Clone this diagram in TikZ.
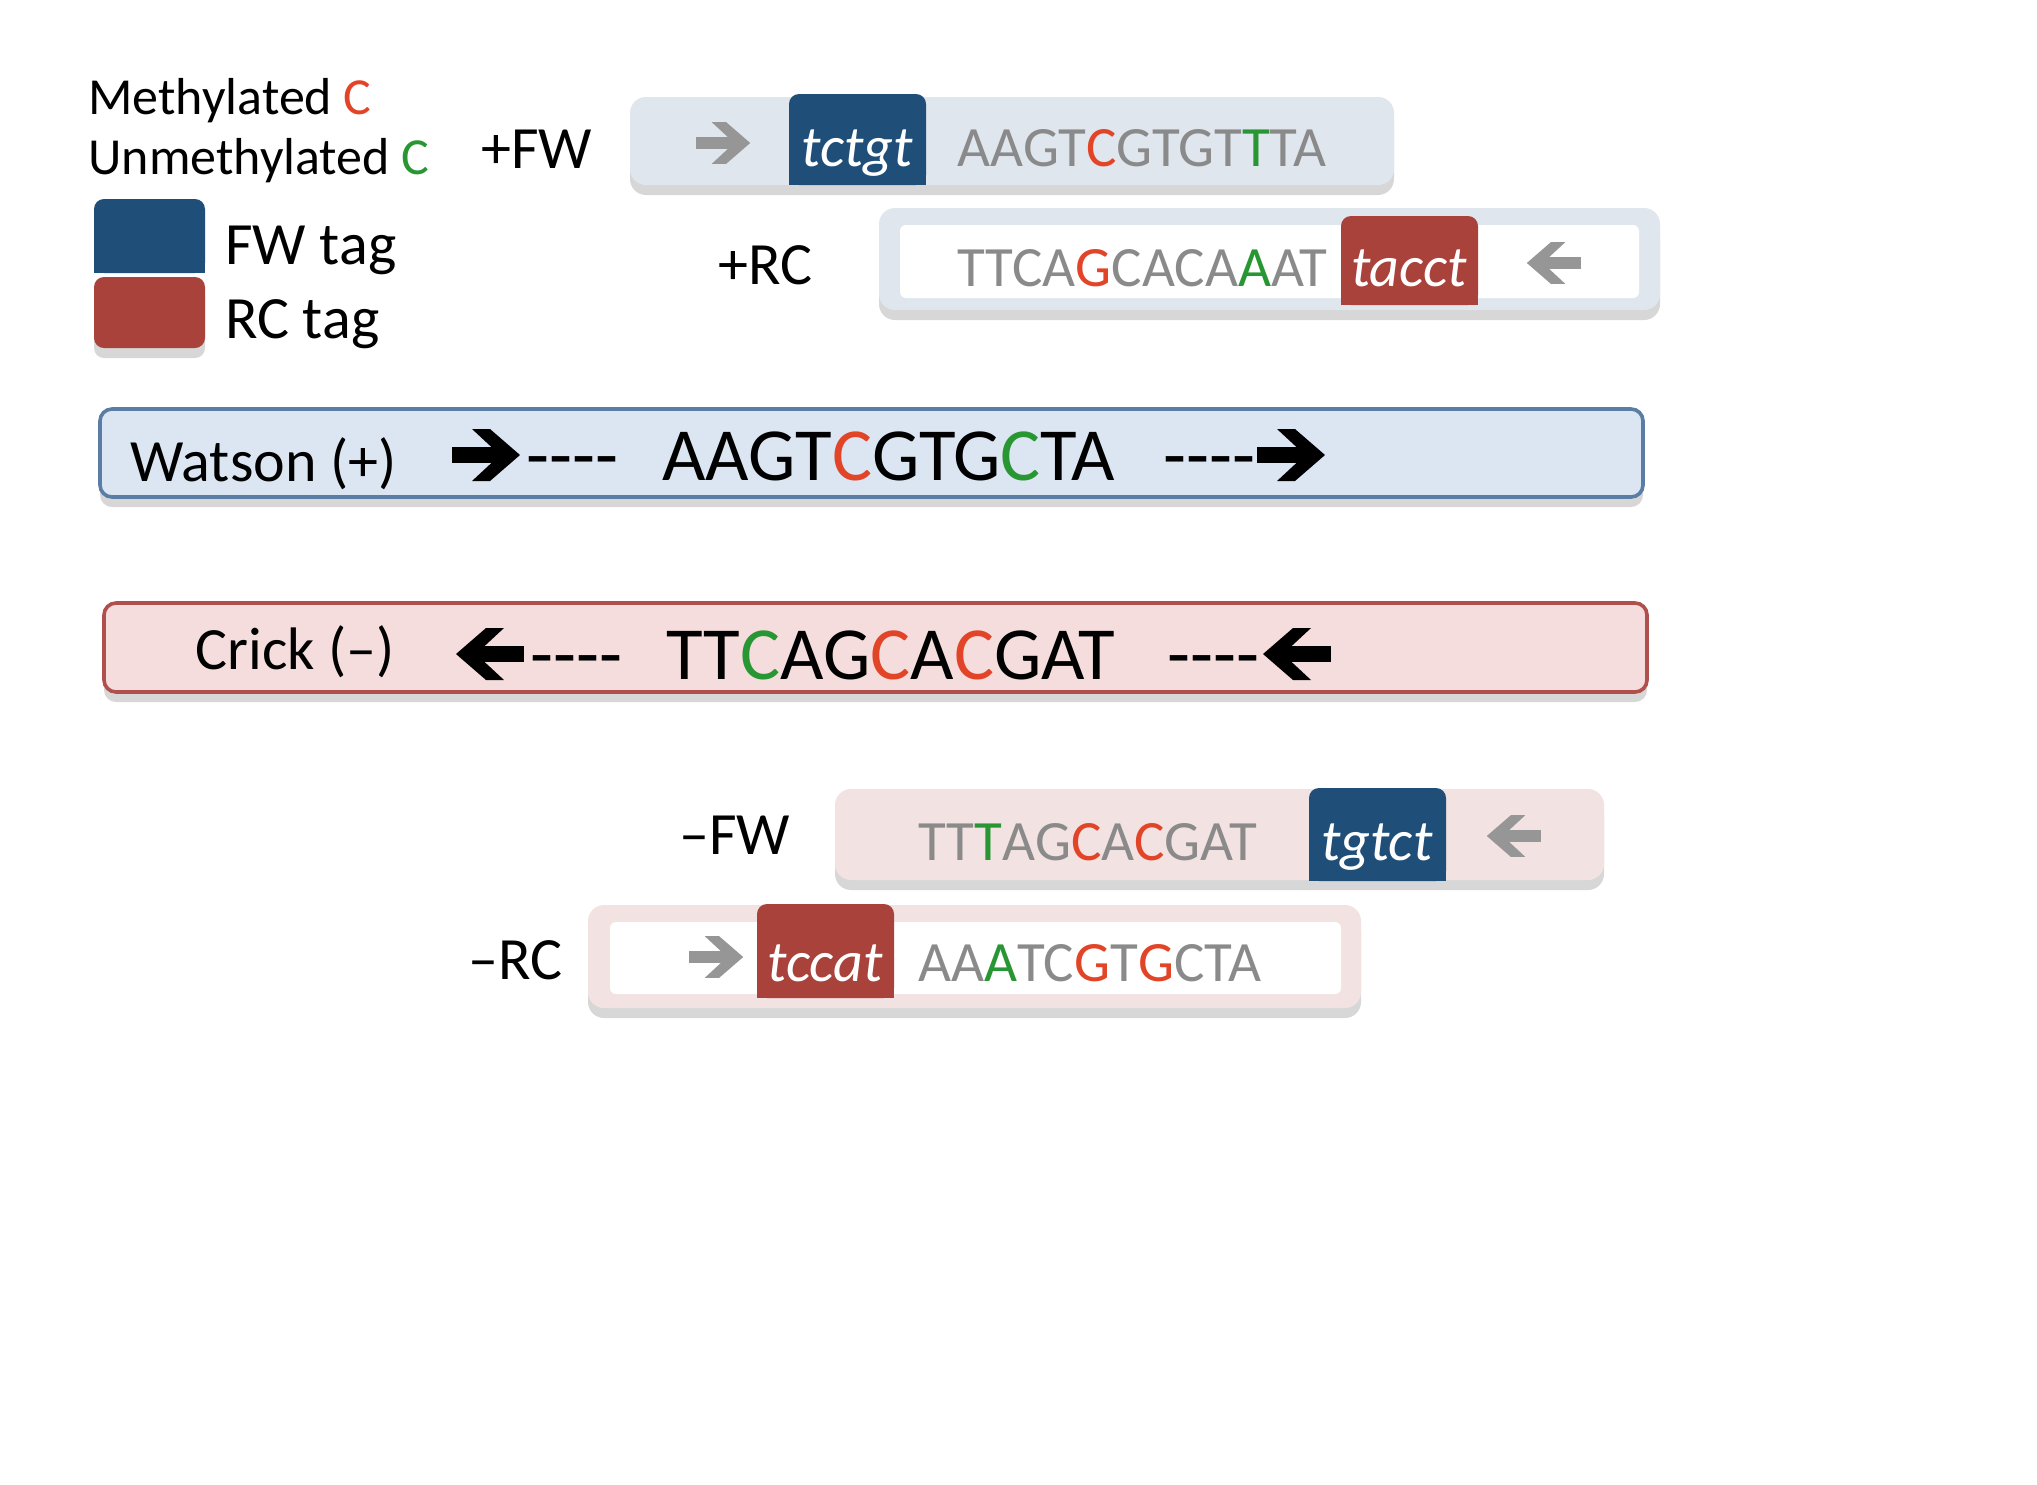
\documentclass[tikz,border=0pt]{standalone}
\usepackage{fontspec}
\setmainfont{Carlito}
\usetikzlibrary{shadows}

\definecolor{methred}{RGB}{226,68,40}
\definecolor{unmethgreen}{RGB}{40,150,50}
\definecolor{seqgray}{RGB}{138,138,138}
\definecolor{arrowgray}{RGB}{150,150,150}
\definecolor{fwblue}{RGB}{31,78,121}
\definecolor{rcred}{RGB}{168,66,58}
\definecolor{watsonfill}{RGB}{220,230,242}
\definecolor{watsonline}{RGB}{90,125,165}
\definecolor{crickfill}{RGB}{244,221,220}
\definecolor{crickline}{RGB}{176,80,77}
\definecolor{plusfill}{RGB}{224,230,238}
\definecolor{minusfill}{RGB}{243,226,226}

\newcommand{\methC}[1]{\textcolor{methred}{#1}}
\newcommand{\unmC}[1]{\textcolor{unmethgreen}{#1}}
\newcommand{\dashes}{-{}-{}-{}-}
% tag: rounded top, square bottom
\newcommand{\tagshape}[5]{%
  \fill[#1,rounded corners=5pt] (#2,#3) rectangle (#4,#5);
  \fill[#1] (#2,{(#3+#5)/2}) rectangle (#4,#5);}

\tikzset{
  fatarrow/.pic={
    \fill (-34,-8) rectangle (16,8);
    \fill (-14,-26) -- (4,-26) -- (34,0) -- (4,26) -- (-14,26) -- (14,0) -- cycle;
  },
  boxshadow/.style={drop shadow={shadow xshift=0pt,shadow yshift=-5pt,opacity=0.22,fill=black!70}},
}

\begin{document}
\begin{tikzpicture}[x=0.5pt,y=0.5pt,yscale=-1,
  every node/.style={inner sep=0pt},
  lbl/.style={font=\fontsize{30}{36}\selectfont,anchor=base west},
  legtxt/.style={font=\fontsize{26}{31}\selectfont,anchor=base west},
  readseq/.style={font=\fontsize{28.5}{34}\selectfont,text=seqgray,anchor=base west},
  bigseq/.style={font=\fontsize{37.5}{44}\selectfont,anchor=base west},
  tagtxt/.style={font=\fontsize{29}{35}\selectfont\itshape,text=white,anchor=base},
  graytip/.style={color=arrowgray,scale=0.8}]
\useasboundingbox (0,0) rectangle (2037,1484);
\fill[white] (0,0) rectangle (2037,1484);

% legend
\node[legtxt] (meth) at (88,114) {Methylated \methC{C}};
\node[legtxt] (unmeth) at (88,174) {Unmethylated \unmC{C}};
\tagshape{fwblue}{94}{199}{205}{273}
\fill[rcred,rounded corners=5pt,boxshadow] (94,277) rectangle (205,348);
\node[lbl] (legfw) at (225,264) {FW tag};
\node[lbl] (legrc) at (225,338) {RC tag};

% +FW read
\node[lbl] (pfw) at (481,168) {+FW};
\fill[plusfill,rounded corners=8pt,boxshadow] (630,97) rectangle (1394,185);
\pic[graytip] (pfwarr) at (723,143) {fatarrow};
\tagshape{fwblue}{789}{94}{926}{185}
\node[tagtxt] (pfwtag) at (857,166) {tctgt};
\node[readseq] (pfwseq) at (957,166) {AAGT\methC{C}GTGT\unmC{T}TA};

% +RC read
\node[lbl] (prc) at (718,284) {+RC};
\fill[plusfill,rounded corners=8pt,boxshadow] (879,208) rectangle (1660,310);
\fill[white,rounded corners=3pt] (900,225) rectangle (1639,298);
\tagshape{rcred}{1341}{216}{1478}{305}
\node[tagtxt] (prctag) at (1409,286) {tacct};
\node[readseq] (prcseq) at (957,286) {TTCA\methC{G}CACA\unmC{A}AT};
\pic[graytip,xscale=-1] (prcarr) at (1554,263) {fatarrow};

% Watson strand
\draw[watsonline,fill=watsonfill,line width=1.8pt,rounded corners=6pt,boxshadow] (100,409) rectangle (1643,497);
\node[lbl] (watson) at (130,481) {Watson (+)};
\pic (warr1) at (486,455) {fatarrow};
\node[bigseq] (wdash1) at (526,480) {\dashes};
\node[bigseq] (wseq) at (662,480) {AAGT\methC{C}GTG\unmC{C}TA};
\node[bigseq] (wdash2) at (1163,480) {\dashes};
\pic (warr2) at (1291,455) {fatarrow};

% Crick strand
\draw[crickline,fill=crickfill,line width=1.8pt,rounded corners=6pt,boxshadow] (104,603) rectangle (1647,692);
\node[lbl] (crick) at (195,669) {Crick (--)};
\pic[xscale=-1] (carr1) at (490,654) {fatarrow};
\node[bigseq] (cdash1) at (530,679) {\dashes};
\node[bigseq] (cseq) at (666,679) {TT\unmC{C}AG\methC{C}A\methC{C}GAT};
\node[bigseq] (cdash2) at (1167,679) {\dashes};
\pic[xscale=-1] (carr2) at (1297,654) {fatarrow};

% -FW read
\node[lbl] (mfw) at (679,854) {--FW};
\fill[minusfill,rounded corners=8pt,boxshadow] (835,789) rectangle (1604,880);
\node[readseq] (mfwseq) at (918,860) {TT\unmC{T}AG\methC{C}A\methC{C}GAT};
\tagshape{fwblue}{1309}{788}{1446}{881}
\node[tagtxt] (mfwtag) at (1377,860) {tgtct};
\pic[graytip,xscale=-1] (mfwarr) at (1514,836) {fatarrow};

% -RC read
\node[lbl] (mrc) at (468,979) {--RC};
\fill[minusfill,rounded corners=8pt,boxshadow] (588,905) rectangle (1361,1008);
\fill[white,rounded corners=3pt] (610,922) rectangle (1341,994);
\pic[graytip] (mrcarr) at (716,957) {fatarrow};
\tagshape{rcred}{757}{904}{894}{998}
\node[tagtxt] (mrctag) at (825,981) {tccat};
\node[readseq] (mrcseq) at (918,981) {AA\unmC{A}TC\methC{G}T\methC{G}CTA};
\end{tikzpicture}
\end{document}
